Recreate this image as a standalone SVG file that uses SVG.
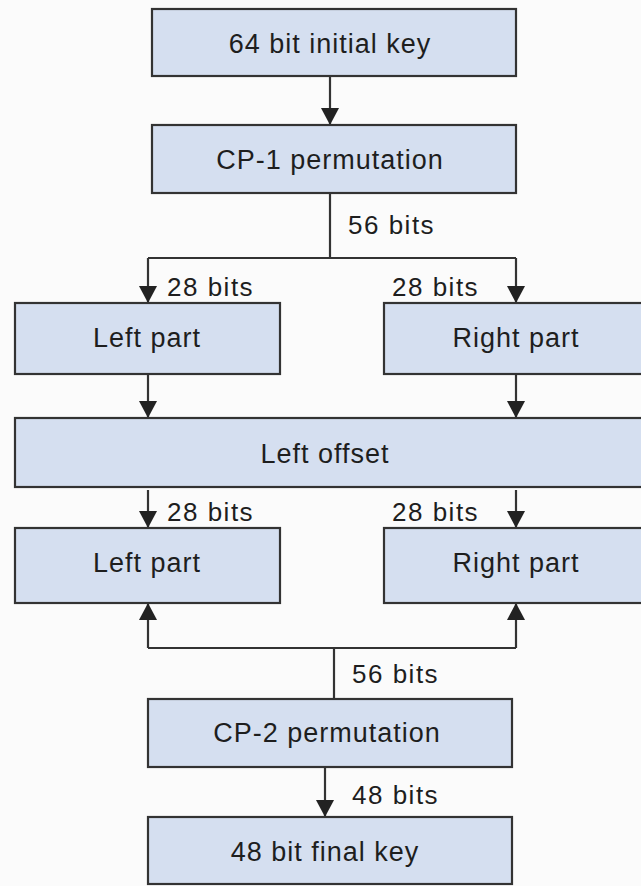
<svg xmlns="http://www.w3.org/2000/svg" width="641" height="886" viewBox="0 0 641 886">
<defs>
<style>
.box{fill:#d5dff0;stroke:#333;stroke-width:2.2}
.t{font-family:"Liberation Sans",Arial,sans-serif;font-size:27px;letter-spacing:1px;fill:#1e1e1e;text-anchor:middle}
.l{font-family:"Liberation Sans",Arial,sans-serif;font-size:26px;letter-spacing:1.5px;fill:#1e1e1e}
.c{fill:none;stroke:#333;stroke-width:2.2}
</style>
<marker id="ad" viewBox="0 0 17 18" refX="17" refY="9" markerWidth="17" markerHeight="18" markerUnits="userSpaceOnUse" orient="auto">
<path d="M0,0 L17,9 L0,18 Z" fill="#222"/>
</marker>
</defs>
<rect width="641" height="886" fill="#fbfbfb"/>
<g id="connectors">
<path class="c" d="M330,77 V125" marker-end="url(#ad)"/>
<path class="c" d="M330,193 V258"/>
<path class="c" d="M148,258 H516"/>
<path class="c" d="M148,258 V303" marker-end="url(#ad)"/>
<path class="c" d="M516,258 V303" marker-end="url(#ad)"/>
<path class="c" d="M148,374 V418" marker-end="url(#ad)"/>
<path class="c" d="M516,374 V418" marker-end="url(#ad)"/>
<path class="c" d="M148,490 V528" marker-end="url(#ad)"/>
<path class="c" d="M516,490 V528" marker-end="url(#ad)"/>
<path class="c" d="M148,648 H516"/>
<path class="c" d="M148,648 V603" marker-end="url(#ad)"/>
<path class="c" d="M516,648 V603" marker-end="url(#ad)"/>
<path class="c" d="M334,648 V699"/>
<path class="c" d="M325,767 V817" marker-end="url(#ad)"/>
<text class="l" x="348" y="234">56 bits</text>
<text class="l" x="167" y="296">28 bits</text>
<text class="l" x="392" y="296">28 bits</text>
<text class="l" x="167" y="521">28 bits</text>
<text class="l" x="392" y="521">28 bits</text>
<text class="l" x="352" y="683">56 bits</text>
<text class="l" x="352" y="804">48 bits</text>
</g>
<g id="initial-key">
<rect class="box" x="152" y="9" width="364" height="67"/>
<text class="t" x="330" y="53">64 bit initial key</text>
</g>
<g id="cp1">
<rect class="box" x="152" y="125" width="364" height="68"/>
<text class="t" x="330" y="169">CP-1 permutation</text>
</g>
<g id="left-part-1">
<rect class="box" x="15" y="303" width="265" height="71"/>
<text class="t" x="147" y="347">Left part</text>
</g>
<g id="right-part-1">
<rect class="box" x="384" y="303" width="270" height="71"/>
<text class="t" x="516" y="347">Right part</text>
</g>
<g id="left-offset">
<rect class="box" x="15" y="418" width="640" height="69"/>
<text class="t" x="325" y="463">Left offset</text>
</g>
<g id="left-part-2">
<rect class="box" x="15" y="528" width="265" height="75"/>
<text class="t" x="147" y="572">Left part</text>
</g>
<g id="right-part-2">
<rect class="box" x="384" y="528" width="270" height="75"/>
<text class="t" x="516" y="572">Right part</text>
</g>
<g id="cp2">
<rect class="box" x="148" y="699" width="364" height="68"/>
<text class="t" x="327" y="742">CP-2 permutation</text>
</g>
<g id="final-key">
<rect class="box" x="148" y="817" width="364" height="67"/>
<text class="t" x="325" y="861">48 bit final key</text>
</g>
</svg>
